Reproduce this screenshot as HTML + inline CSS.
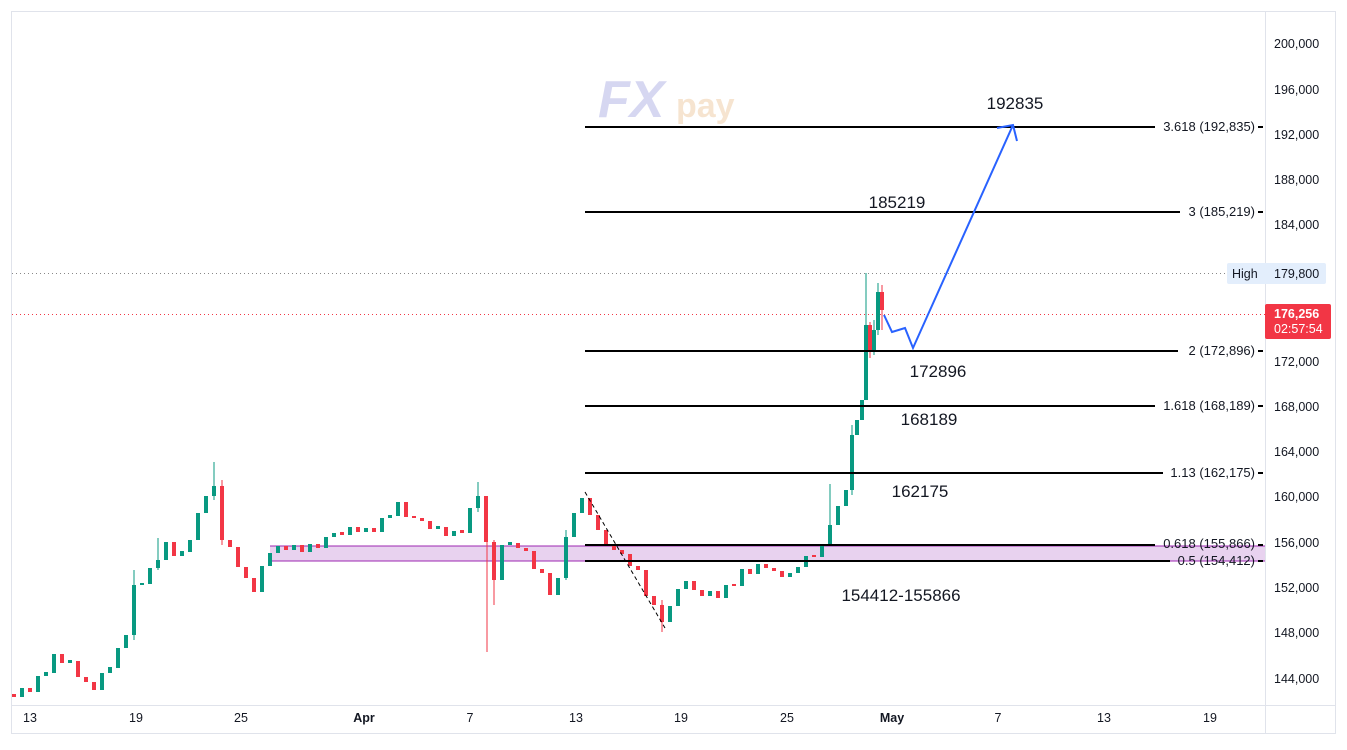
<!DOCTYPE html>
<html><head><meta charset="utf-8"><style>
body{margin:0;background:#fff;font-family:"Liberation Sans",sans-serif}
svg text{font-family:"Liberation Sans",sans-serif}
</style></head><body>
<svg width="1347" height="745" viewBox="0 0 1347 745" xmlns="http://www.w3.org/2000/svg">
<rect x="0" y="0" width="1347" height="745" fill="#fff"/>
<rect x="11.5" y="11.5" width="1324" height="722" fill="none" stroke="#e0e3eb"/>
<line x1="1265.5" y1="12" x2="1265.5" y2="733" stroke="#e0e3eb"/>
<line x1="12" y1="705.5" x2="1335" y2="705.5" stroke="#e0e3eb"/>
<g font-weight="bold" opacity="0.35">
<text x="598" y="117" font-size="52" fill="#8c8fd8" font-style="italic">FX</text>
<text x="676" y="117" font-size="34" fill="#e8b57a">pay</text>
</g>
<rect x="270" y="546" width="995" height="15" fill="#e8d2ef"/>
<line x1="270" y1="546" x2="1265" y2="546" stroke="#9c27b0"/>
<line x1="270" y1="561" x2="1265" y2="561" stroke="#9c27b0"/>
<line x1="12" y1="273.5" x2="1226" y2="273.5" stroke="#888" stroke-dasharray="1,3"/>
<line x1="12" y1="314.5" x2="1265" y2="314.5" stroke="#f23645" stroke-dasharray="1,3"/>
<path fill="none" stroke="#089981" stroke-width="1" d="M866 273V400 M852 425V495 M158 538V570 M134 570V640 M214 462V500 M478 482V512 M830 484V530 M566 530V580 M874 320V355 M878 283V335"/>
<path fill="none" stroke="#f23645" stroke-width="1" d="M487 535V652 M494 540V605 M222 480V545 M882 285V330 M870 322V358 M662 600V632"/>
<path fill="none" stroke="#089981" stroke-width="4" d="M22 697V688 M38 692V676 M46 676V672 M54 673V654 M70 663V660 M102 690V673 M110 673V667 M118 668V648 M126 648V635 M134 635V585 M142 585V583 M150 584V568 M158 568V560 M166 560V542 M182 556V551 M190 552V540 M198 540V513 M206 513V496 M214 496V486 M262 592V566 M270 566V553 M278 553V546 M294 550V545 M310 552V544 M326 548V537 M334 537V533 M350 535V527 M366 532V528 M382 532V518 M390 518V515 M398 516V502 M438 529V526 M454 536V531 M470 533V508 M478 508V496 M502 580V545 M510 545V542 M558 595V578 M566 578V537 M574 537V513 M582 513V498 M670 622V606 M678 606V589 M686 589V581 M710 596V591 M726 598V585 M742 586V569 M758 574V564 M790 577V573 M798 573V567 M806 567V556 M822 557V545 M830 545V525 M838 525V506 M846 506V490 M852 490V435 M857 435V420 M862 420V400 M866 400V325 M874 350V330 M878 330V292"/>
<path fill="none" stroke="#f23645" stroke-width="4" d="M14 694V697 M30 688V692 M62 654V663 M78 661V677 M86 677V682 M94 682V690 M174 542V556 M222 486V540 M230 540V547 M238 547V567 M246 567V578 M254 578V592 M286 546V550 M302 545V552 M318 544V548 M342 532V535 M358 527V532 M374 528V532 M406 502V517 M414 516V518 M422 518V521 M430 521V529 M446 527V536 M462 530V533 M486 496V542 M494 542V580 M518 543V548 M526 548V551 M534 551V569 M542 569V573 M550 573V595 M590 498V515 M598 515V530 M606 530V545 M614 545V550 M622 550V554 M630 554V566 M638 566V570 M646 570V596 M654 596V605 M662 605V622 M694 581V590 M702 590V596 M718 591V598 M734 584V586 M750 569V574 M766 564V568 M774 568V571 M782 571V577 M814 555V557 M870 325V350 M882 292V310"/>
<line x1="585" y1="492" x2="665" y2="628" stroke="#000" stroke-dasharray="4,3"/>
<g stroke="#000" stroke-width="2">
<line x1="585" y1="127" x2="1155" y2="127"/><line x1="1258" y1="127" x2="1263" y2="127"/>
<line x1="585" y1="212" x2="1180" y2="212"/><line x1="1258" y1="212" x2="1263" y2="212"/>
<line x1="585" y1="351" x2="1178" y2="351"/><line x1="1258" y1="351" x2="1263" y2="351"/>
<line x1="585" y1="406" x2="1155" y2="406"/><line x1="1258" y1="406" x2="1263" y2="406"/>
<line x1="585" y1="473" x2="1163" y2="473"/><line x1="1258" y1="473" x2="1263" y2="473"/>
<line x1="585" y1="545" x2="1155" y2="545"/><line x1="1258" y1="545" x2="1263" y2="545"/>
<line x1="585" y1="561" x2="1170" y2="561"/><line x1="1258" y1="561" x2="1263" y2="561"/>
</g>
<g font-size="13" fill="#131722" text-anchor="end">
<text x="1255" y="131">3.618 (192,835)</text>
<text x="1255" y="216">3 (185,219)</text>
<text x="1255" y="355">2 (172,896)</text>
<text x="1255" y="410">1.618 (168,189)</text>
<text x="1255" y="477">1.13 (162,175)</text>
<text x="1255" y="548">0.618 (155,866)</text>
<text x="1255" y="565">0.5 (154,412)</text>
</g>
<g font-size="17" fill="#131722" text-anchor="middle">
<text x="1015" y="109">192835</text>
<text x="897" y="208">185219</text>
<text x="938" y="377">172896</text>
<text x="929" y="425">168189</text>
<text x="920" y="497">162175</text>
<text x="901" y="601">154412-155866</text>
</g>
<polyline points="884,315 892,332 905,328 913,348 1013,125" fill="none" stroke="#2962ff" stroke-width="2"/>
<polyline points="997,128 1013,125 1017,141" fill="none" stroke="#2962ff" stroke-width="2"/>
<g font-size="12.5" fill="#131722">
<text x="1274" y="48">200,000</text><text x="1274" y="94">196,000</text><text x="1274" y="139">192,000</text>
<text x="1274" y="184">188,000</text><text x="1274" y="229">184,000</text><text x="1274" y="366">172,000</text>
<text x="1274" y="411">168,000</text><text x="1274" y="456">164,000</text><text x="1274" y="501">160,000</text>
<text x="1274" y="547">156,000</text><text x="1274" y="592">152,000</text><text x="1274" y="637">148,000</text>
<text x="1274" y="683">144,000</text>
</g>
<rect x="1227" y="263" width="99" height="21" rx="2" fill="#e3eefc"/>
<text x="1232" y="278" font-size="12.5" fill="#131722">High</text>
<text x="1274" y="278" font-size="12.5" fill="#131722">179,800</text>
<rect x="1265" y="304" width="66" height="35" rx="2" fill="#f23645"/>
<text x="1274" y="318" font-size="12.5" fill="#fff" font-weight="bold">176,256</text>
<text x="1274" y="333" font-size="12.5" fill="#fff">02:57:54</text>
<g font-size="12.5" fill="#131722" text-anchor="middle">
<text x="30" y="722">13</text><text x="136" y="722">19</text><text x="241" y="722">25</text>
<text x="364" y="722" font-weight="bold">Apr</text><text x="470" y="722">7</text><text x="576" y="722">13</text>
<text x="681" y="722">19</text><text x="787" y="722">25</text><text x="892" y="722" font-weight="bold">May</text>
<text x="998" y="722">7</text><text x="1104" y="722">13</text><text x="1210" y="722">19</text>
</g>
</svg>
</body></html>
